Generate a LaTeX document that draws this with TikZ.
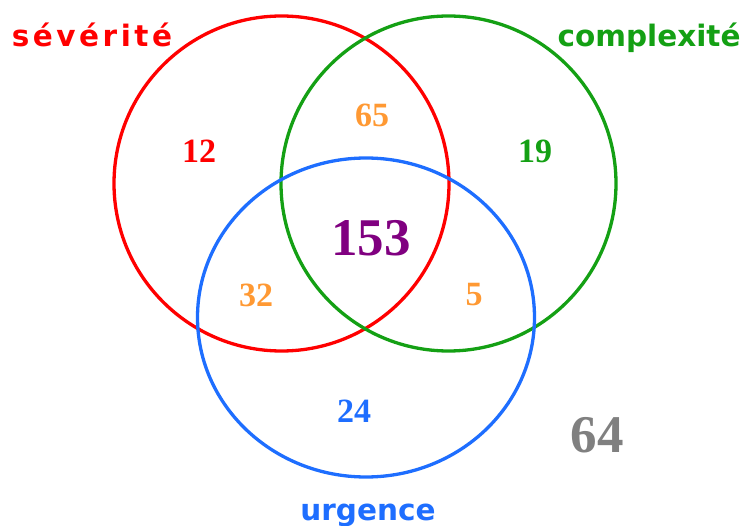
\documentclass[tikz,border=0pt]{standalone}
\usepackage{fontspec}
\setmainfont{Liberation Serif}
\newfontfamily\lblfont{DejaVu Sans}[BoldFont={DejaVu Sans Bold}]
\newfontfamily\lblfontwide{DejaVu Sans}[BoldFont={DejaVu Sans Bold},LetterSpace=12]
\definecolor{cred}{RGB}{255,0,0}
\definecolor{cgreen}{RGB}{20,160,20}
\definecolor{cblue}{RGB}{30,110,255}
\definecolor{corange}{RGB}{255,153,51}
\definecolor{cpurple}{RGB}{128,0,128}
\definecolor{cgray}{RGB}{128,128,128}
\tikzset{
  setring/.style={line width=3.3pt},
  setlabel/.style={font=\lblfont\bfseries\fontsize{29.5}{30}\selectfont, anchor=base, inner sep=0pt},
  count/.style={font=\bfseries\fontsize{34}{35}\selectfont, inner sep=0pt},
  bigcount/.style={font=\bfseries\fontsize{53}{55}\selectfont, inner sep=0pt}
}
\begin{document}
\begin{tikzpicture}[x=1pt,y=-1pt]
  \useasboundingbox (0,0) rectangle (744,526);
  % the three sets
  \draw[setring, cred]   (281.5,183.5) circle[radius=167.5];
  \draw[setring, cgreen] (448.5,183.5) circle[radius=167.5];
  \draw[setring, cblue]  (366,317.5) ellipse[x radius=168.5, y radius=159.5];
  % set names
  \node[setlabel, cred, font=\lblfontwide\bfseries\fontsize{29.5}{30}\selectfont] (sev) at (92,47) {sévérité};
  \node[setlabel, cgreen] (cpx) at (649,47) {complexité};
  \node[setlabel, cblue] (urg) at (368,520) {urgence};
  % region counts
  \node[count, cred]    (n12)  at (199,151) {12};
  \node[count, corange] (n65)  at (372,115) {65};
  \node[count, cgreen]  (n19)  at (535,151) {19};
  \node[bigcount, cpurple] (n153) at (371,238) {153};
  \node[count, corange] (n32)  at (256,295) {32};
  \node[count, corange] (n5)   at (474,295) {5};
  \node[count, cblue]   (n24)  at (354,411) {24};
  \node[bigcount, cgray] (n64) at (597,435) {64};
\end{tikzpicture}
\end{document}
